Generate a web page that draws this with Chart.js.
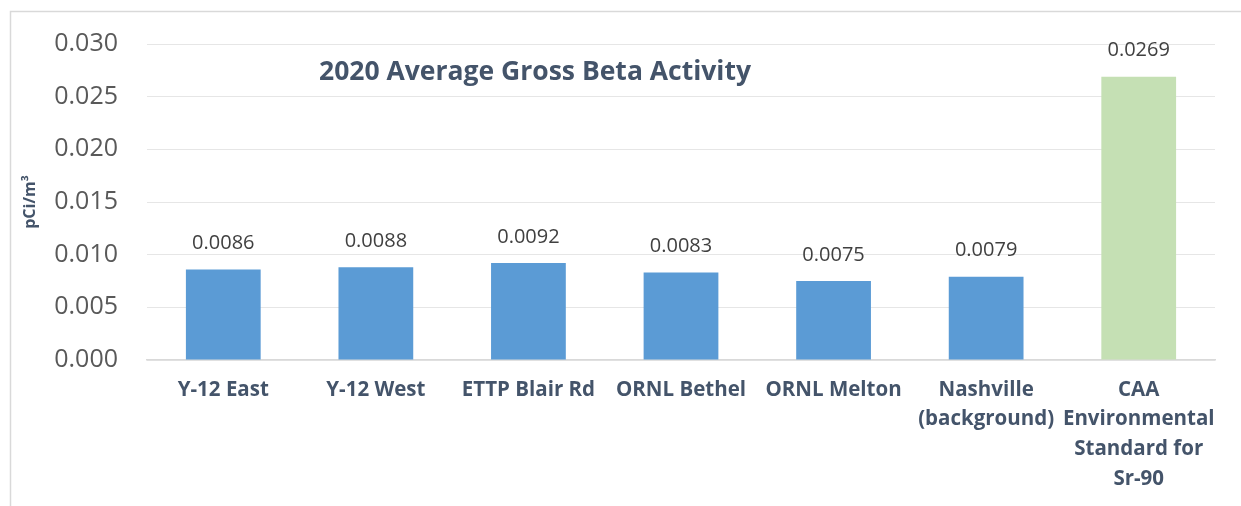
<!DOCTYPE html>
<html>
<head>
<meta charset="utf-8">
<script src="https://cdn.jsdelivr.net/npm/chart.js@4.4.1/dist/chart.umd.min.js"></script>
<style>
  html, body { margin: 0; padding: 0; background: #ffffff; }
  #wrap { position: relative; width: 1241px; height: 506px; }
</style>
</head>
<body>
<div id="wrap"><canvas id="c" width="1241" height="506"></canvas></div>
<script>
const categories = [
  ["Y-12 East"],
  ["Y-12 West"],
  ["ETTP Blair Rd"],
  ["ORNL Bethel"],
  ["ORNL Melton"],
  ["Nashville", "(background)"],
  ["CAA", "Environmental", "Standard for", "Sr-90"]
];
const values = [0.0086, 0.0088, 0.0092, 0.0083, 0.0075, 0.0079, 0.0269];
const valueLabels = ["0.0086", "0.0088", "0.0092", "0.0083", "0.0075", "0.0079", "0.0269"];
const barColors = ["#5B9BD5", "#5B9BD5", "#5B9BD5", "#5B9BD5", "#5B9BD5", "#5B9BD5", "#C5E0B4"];
const chartTitle = "2020 Average Gross Beta Activity";
const yAxisTitle = "pCi/m³";
const yMin = 0, yMax = 0.03, yStep = 0.005;

const FONT = "'Open Sans', sans-serif";

const extras = {
  id: 'extras',
  beforeDraw(chart) {
    const ctx = chart.ctx;
    ctx.save();
    ctx.strokeStyle = '#d9d9d9';
    ctx.lineWidth = 1.5;
    ctx.beginPath();
    ctx.moveTo(10.5, 506);
    ctx.lineTo(10.5, 11.5);
    ctx.lineTo(1241, 11.5);
    ctx.stroke();
    ctx.restore();
  },
  afterDatasetsDraw(chart) {
    const ctx = chart.ctx;
    const meta = chart.getDatasetMeta(0);
    ctx.save();
    ctx.font = "20px " + FONT;
    ctx.fillStyle = '#404040';
    ctx.textAlign = 'center';
    ctx.textBaseline = 'middle';
    meta.data.forEach((bar, i) => {
      ctx.fillText(valueLabels[i], bar.x, bar.y - 26);
    });
    // chart title inside plot area
    const ca = chart.chartArea;
    ctx.font = "bold 26.5px " + FONT;
    ctx.fillStyle = '#44546A';
    ctx.fillText(chartTitle, ca.left + 388, ca.top + 28);
    ctx.restore();
  }
};

new Chart(document.getElementById('c'), {
  type: 'bar',
  data: {
    labels: categories,
    datasets: [{
      data: values,
      backgroundColor: barColors,
      borderWidth: 0,
      barPercentage: 0.49,
      categoryPercentage: 1.0
    }]
  },
  options: {
    responsive: false,
    animation: false,
    devicePixelRatio: 1,
    layout: { padding: { left: 21, right: 26, top: 34, bottom: 11 } },
    plugins: {
      legend: { display: false },
      tooltip: { enabled: false },
      title: { display: false }
    },
    scales: {
      x: {
        grid: { display: false, drawTicks: false },
        border: { display: true, color: '#d9d9d9', width: 1.5 },
        afterFit: (scale) => { scale.height = 135; },
        ticks: {
          color: '#44546A',
          font: { family: FONT, size: 20.5, weight: 'bold', lineHeight: 1.45 },
          padding: 15,
          maxRotation: 0,
          autoSkip: false
        }
      },
      y: {
        min: yMin,
        max: yMax,
        grid: { color: '#e6e6e6', lineWidth: 1, drawTicks: false },
        border: { display: false },
        afterFit: (scale) => { scale.width = 126; },
        ticks: {
          stepSize: yStep,
          color: '#595959',
          font: { family: FONT, size: 25 },
          padding: 29,
          callback: (v) => Number(v).toFixed(3)
        },
        title: {
          display: true,
          text: yAxisTitle,
          color: '#44546A',
          font: { family: FONT, size: 16, weight: 'bold' },
          padding: { top: 0, bottom: 16 }
        }
      }
    }
  },
  plugins: [extras]
});
</script>
</body>
</html>
